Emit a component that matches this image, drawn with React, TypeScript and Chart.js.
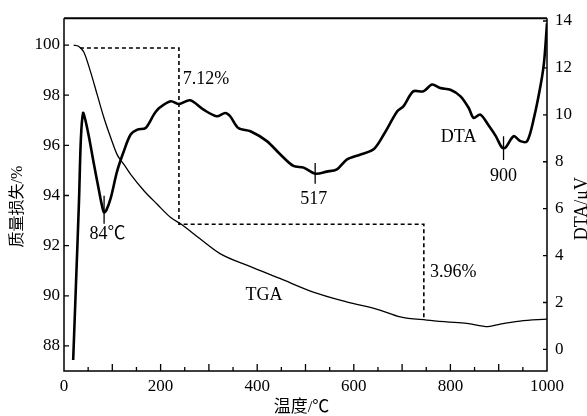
import React, { useEffect, useRef } from "react";
import { Chart, registerables } from "chart.js";

Chart.register(...registerables);

// TGA (left axis, %)
const tgaT = [20, 30, 41, 55, 69, 83, 97, 110, 124, 138, 166, 193, 221, 242, 281, 323, 385, 447, 516, 585, 654, 696, 751, 792, 834, 878, 903, 944, 1000];
const tgaV = [100, 99.95, 99.72, 98.93, 98.0, 97.08, 96.29, 95.63, 95.24, 94.84, 94.18, 93.65, 93.12, 92.86, 92.28, 91.68, 91.17, 90.69, 90.15, 89.76, 89.43, 89.16, 89.03, 88.96, 88.9, 88.77, 88.87, 88.99, 89.07];

// DTA (right axis, μV)
const dtaT = [19, 25, 31, 35, 39.5, 44, 52, 62, 72.5, 79, 83, 88, 97, 110, 124, 138, 152, 169, 186, 197, 221, 238, 261, 289, 316, 334, 344, 361, 386, 420, 448, 475, 496, 520, 544, 565, 586, 614, 641, 662, 690, 703, 723, 744, 762, 779, 800, 821, 838, 848, 862, 880, 894, 907, 914, 931, 945, 959, 973, 987, 994, 1000];
const dtaV = [-0.45, 2.9, 6.3, 9.0, 10.08, 9.8, 9.02, 7.89, 6.76, 6.1, 5.84, 5.95, 6.47, 7.6, 8.46, 9.16, 9.37, 9.44, 10.01, 10.29, 10.58, 10.46, 10.62, 10.22, 9.94, 10.08, 9.94, 9.44, 9.3, 8.88, 8.31, 7.82, 7.75, 7.49, 7.58, 7.68, 8.1, 8.31, 8.53, 9.16, 10.15, 10.37, 11.0, 11.0, 11.29, 11.14, 11.07, 10.79, 10.29, 9.87, 10.01, 9.52, 9.09, 8.6, 8.6, 9.09, 8.88, 8.88, 9.87, 11.29, 12.27, 13.9];

// Mass-loss step guide (left axis)
const stepT = [33, 238, 238, 745, 745];
const stepV = [99.88, 99.88, 92.85, 92.85, 89.1];

// Peak markers (right axis)
const peakT = [83, 520, 910];
const peakTop = [6.55, 7.95, 9.09];
const peakBottom = [5.36, 7.06, 8.07];

// Tick values
const xTickLabels = [0, 200, 400, 600, 800, 1000];
const xMajorTicks = [100, 200, 300, 400, 500, 600, 700, 800, 900];
const xMinorTicks = [50, 150, 250, 350, 450, 550, 650, 750, 850, 950];
const leftTicks = [88, 90, 92, 94, 96, 98, 100];
const rightTicks = [0, 2, 4, 6, 8, 10, 12, 14];

// Annotation texts
const noteTexts = ["7.12%", "3.96%", "TGA", "DTA", "517", "900", "84℃"];
const noteX = [246, 758, 414, 817, 517, 910, 90];
const noteY = [98.65, 90.93, 90.02, 9.05, 6.4, 7.4, 4.93];
const noteAxis = ["y", "y", "y", "y1", "y1", "y1", "y1"];
const noteAlign = ["left", "left", "center", "center", "center", "center", "center"];

const SERIF = '"Liberation Serif", "Times New Roman", serif';
const MIXED = '"Liberation Serif", "Noto Sans CJK SC", serif';

const pts = (xs: number[], ys: number[]) => xs.map((x, i) => ({ x, y: ys[i] }));

export default function App() {
  const ref = useRef<HTMLCanvasElement>(null);

  useEffect(() => {
    if (!ref.current) return;

    const decor = {
      id: "decor",
      afterDraw(chart: any) {
        const ctx = chart.ctx;
        const a = chart.chartArea;
        const sx = chart.scales.x;
        const sy = chart.scales.y;
        const sy1 = chart.scales.y1;
        ctx.save();
        ctx.strokeStyle = "#000";
        ctx.fillStyle = "#000";
        // frame
        ctx.lineWidth = 1.5;
        ctx.beginPath();
        ctx.moveTo(a.left, a.top);
        ctx.lineTo(a.left, a.bottom);
        ctx.lineTo(a.right, a.bottom);
        ctx.lineTo(a.right, a.top);
        ctx.stroke();
        ctx.lineWidth = 2;
        ctx.beginPath();
        ctx.moveTo(a.left, a.top);
        ctx.lineTo(a.right, a.top);
        ctx.stroke();
        // ticks
        ctx.lineWidth = 1.3;
        ctx.beginPath();
        xMajorTicks.forEach((v) => {
          const px = sx.getPixelForValue(v);
          ctx.moveTo(px, a.bottom);
          ctx.lineTo(px, a.bottom - 7);
        });
        xMinorTicks.forEach((v) => {
          const px = sx.getPixelForValue(v);
          ctx.moveTo(px, a.bottom);
          ctx.lineTo(px, a.bottom - 4);
        });
        leftTicks.forEach((v) => {
          const py = sy.getPixelForValue(v);
          ctx.moveTo(a.left, py);
          ctx.lineTo(a.left + 5, py);
        });
        rightTicks.forEach((v) => {
          const py = sy1.getPixelForValue(v);
          ctx.moveTo(a.right, py);
          ctx.lineTo(a.right - 4, py);
        });
        ctx.stroke();
        // annotations
        ctx.font = `18px ${MIXED}`;
        ctx.textBaseline = "middle";
        noteTexts.forEach((t, i) => {
          const sc = noteAxis[i] === "y" ? sy : sy1;
          ctx.textAlign = noteAlign[i] as CanvasTextAlign;
          ctx.fillText(t, sx.getPixelForValue(noteX[i]), sc.getPixelForValue(noteY[i]));
        });
        // axis titles
        ctx.textAlign = "center";
        ctx.font = `17px ${MIXED}`;
        ctx.fillText("温度/℃", (a.left + a.right) / 2 - 4, 408);
        ctx.save();
        ctx.translate(18, (a.top + a.bottom) / 2 + 12);
        ctx.rotate(-Math.PI / 2);
        ctx.font = `16px ${MIXED}`;
        ctx.fillText("质量损失/%", 0, 0);
        ctx.restore();
        ctx.save();
        ctx.translate(582, (a.top + a.bottom) / 2 + 14);
        ctx.rotate(-Math.PI / 2);
        ctx.font = `18px ${SERIF}`;
        ctx.fillText("DTA/μV", 0, 0);
        ctx.restore();
        ctx.restore();
      },
    };

    const tickFont = { family: SERIF, size: 17 };
    const plain = (v: any) => String(v);
    const chart = new Chart(ref.current, {
      type: "line",
      data: {
        datasets: [
          {
            data: pts(tgaT, tgaV),
            yAxisID: "y",
            borderColor: "#000",
            borderWidth: 1.3,
            pointRadius: 0,
            tension: 0.4,
            cubicInterpolationMode: "monotone",
          },
          {
            data: pts(dtaT, dtaV),
            yAxisID: "y1",
            borderColor: "#000",
            borderWidth: 2.6,
            pointRadius: 0,
            tension: 0.3,
          },
          {
            data: pts(stepT, stepV),
            yAxisID: "y",
            borderColor: "#000",
            borderWidth: 1.6,
            borderDash: [4, 3],
            pointRadius: 0,
            tension: 0,
          },
          ...peakT.map((t, i) => ({
            data: pts([t, t], [peakTop[i], peakBottom[i]]),
            yAxisID: "y1",
            borderColor: "#000",
            borderWidth: 1.3,
            pointRadius: 0,
            tension: 0,
          })),
        ] as any,
      },
      options: {
        animation: false,
        responsive: false,
        maintainAspectRatio: false,
        layout: { padding: { top: 16, left: 0, right: 0, bottom: 0 } },
        plugins: { legend: { display: false }, tooltip: { enabled: false } },
        scales: {
          x: {
            type: "linear",
            min: 0,
            max: 1000,
            grid: { display: false, drawTicks: false },
            border: { display: false },
            ticks: { font: tickFont, color: "#000", padding: 5, maxRotation: 0, autoSkip: false, callback: plain },
            afterBuildTicks: (s: any) => {
              s.ticks = xTickLabels.map((v) => ({ value: v }));
            },
            afterFit: (s: any) => {
              s.height = 45;
            },
          },
          y: {
            position: "left",
            min: 87.0,
            max: 101.07,
            grid: { display: false, drawTicks: false },
            border: { display: false },
            ticks: { font: tickFont, color: "#000", padding: 4, callback: plain },
            afterBuildTicks: (s: any) => {
              s.ticks = leftTicks.map((v) => ({ value: v }));
            },
            afterFit: (s: any) => {
              s.width = 64;
            },
          },
          y1: {
            position: "right",
            min: -0.92,
            max: 14.12,
            grid: { display: false, drawTicks: false },
            border: { display: false },
            ticks: { font: tickFont, color: "#000", padding: 8, callback: plain },
            afterBuildTicks: (s: any) => {
              s.ticks = rightTicks.map((v) => ({ value: v }));
            },
            afterFit: (s: any) => {
              s.width = 40;
            },
          },
        },
      } as any,
      plugins: [decor],
    });
    return () => chart.destroy();
  }, []);

  return (
    <div style={{ position: "fixed", left: 0, top: 0, width: 587, height: 416, background: "#fff" }}>
      <canvas ref={ref} width={587} height={416} style={{ width: 587, height: 416 }} />
    </div>
  );
}
